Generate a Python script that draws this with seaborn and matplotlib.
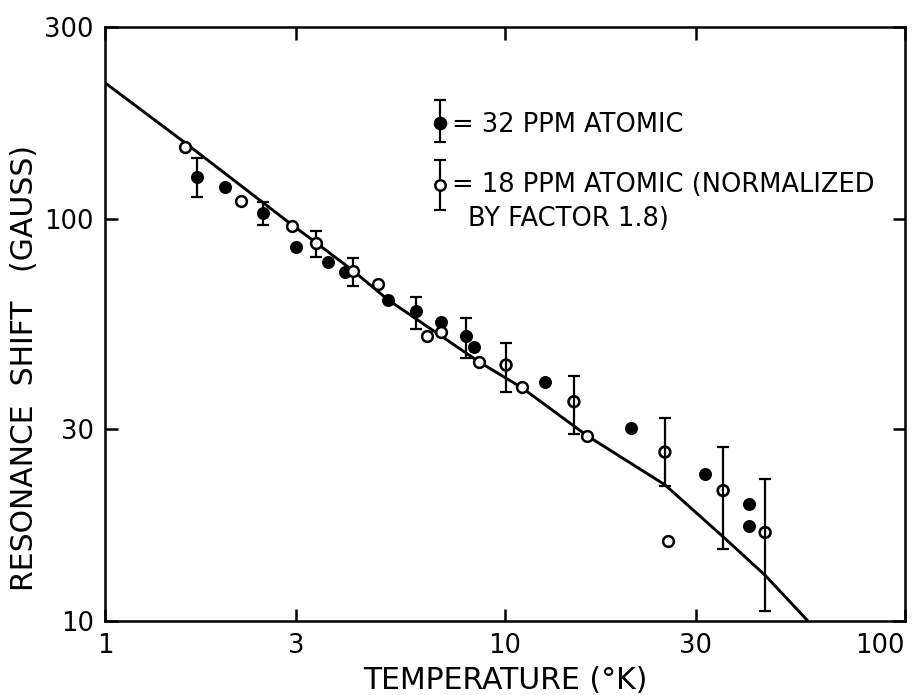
import matplotlib
matplotlib.use("Agg")
import matplotlib.pyplot as plt
from matplotlib.ticker import FixedLocator, NullLocator
import seaborn as sns
import pandas as pd
import numpy as np

# ── Data ─────────────────────────────────────────────────────────────────────
# 32 ppm atomic (filled circles)
temp_32 = [1.995, 3.003, 3.61, 3.98, 5.10, 6.92, 8.37, 12.59, 20.65, 31.6, 40.7, 40.7]
shift_32 = [120.1, 85.2, 78.2, 73.8, 62.9, 55.4, 48.0, 39.3, 30.2, 23.2, 19.5, 17.2]
temp_32_err = [1.698, 2.483, 5.99, 7.99]
shift_32_err = [127.2, 103.5, 59.0, 51.2]
lo_32 = [113.4, 96.6, 53.3, 45.1]
hi_32 = [141.8, 110.2, 64.0, 56.7]

# 18 ppm atomic, normalized by 1.8 (open circles)
temp_18 = [1.585, 2.188, 2.934, 4.81, 6.38, 6.92, 8.61, 11.03, 16.03, 25.6]
shift_18 = [151.1, 110.9, 96.1, 68.9, 51.2, 52.3, 44.1, 38.2, 28.9, 15.8]
# open points with error bars (low T: clean rings, high T: bar drawn through)
temp_18_err = [3.37, 4.17]
shift_18_err = [87.2, 74.3]
lo_18 = [80.4, 68.1]
hi_18 = [93.3, 80.0]
temp_18_bar = [10.06, 14.87, 25.1, 35.1, 44.7]
shift_18_bar = [43.3, 35.1, 26.3, 21.1, 16.6]
lo_18_bar = [37.1, 29.2, 21.7, 15.1, 10.6]
hi_18_bar = [49.2, 40.7, 32.0, 27.1, 22.6]

# theory curve
curve_t = [1.0, 1.585, 2.934, 3.37, 4.17, 5.10, 8.61, 11.03, 16.03, 25.12, 35.08, 44.67, 57.2]
curve_s = [217.9, 154.6, 96.6, 87.2, 74.3, 62.9, 44.1, 38.0, 28.9, 21.8, 16.2, 13.0, 10.0]

x_ticks = [1, 3, 10, 30, 100]
y_ticks = [10, 30, 100, 300]

# ── Style ────────────────────────────────────────────────────────────────────
sns.set_theme(style="ticks")
plt.rcParams["font.family"] = ["DejaVu Sans"]
plt.rcParams["axes.linewidth"] = 1.8
for key in ["text.color", "axes.labelcolor", "xtick.color", "ytick.color", "axes.edgecolor"]:
    plt.rcParams[key] = "black"

fig = plt.figure(figsize=(9.23, 6.95), dpi=100)
ax = fig.add_axes([0.1138, 0.1065, 0.8667, 0.8547])

curve = pd.DataFrame({"T": curve_t, "S": curve_s})
sns.lineplot(data=curve, x="T", y="S", color="black", linewidth=2.1, sort=False,
             estimator=None, ax=ax, zorder=2)


def add_bars(t, s, lo, hi, z):
    ax.errorbar(t, s, yerr=[np.subtract(s, lo), np.subtract(hi, s)],
                fmt="none", ecolor="black", elinewidth=1.6, capsize=4.5,
                capthick=1.6, zorder=z)


add_bars(temp_32_err, shift_32_err, lo_32, hi_32, 3)
add_bars(temp_18_err, shift_18_err, lo_18, hi_18, 3)
add_bars(temp_18_bar, shift_18_bar, lo_18_bar, hi_18_bar, 3)

filled = pd.DataFrame({"T": temp_32 + temp_32_err, "S": shift_32 + shift_32_err})
open_pts = pd.DataFrame({"T": temp_18 + temp_18_err, "S": shift_18 + shift_18_err})
ring_pts = pd.DataFrame({"T": temp_18_bar, "S": shift_18_bar})

sns.scatterplot(data=filled, x="T", y="S", color="black", edgecolor="black",
                s=70, linewidth=1, ax=ax, zorder=4)
sns.scatterplot(data=open_pts, x="T", y="S", facecolor="white", edgecolor="black",
                s=60, linewidth=1.8, ax=ax, zorder=4)
sns.scatterplot(data=ring_pts, x="T", y="S", facecolor="none", edgecolor="black",
                s=60, linewidth=1.9, ax=ax, zorder=4)

ax.set_xscale("log")
ax.set_yscale("log")
ax.set_xlim(1, 100)
ax.set_ylim(10, 300)
ax.xaxis.set_major_locator(FixedLocator(x_ticks))
ax.yaxis.set_major_locator(FixedLocator(y_ticks))
ax.xaxis.set_minor_locator(NullLocator())
ax.yaxis.set_minor_locator(NullLocator())
ax.set_xticklabels([str(v) for v in x_ticks])
ax.set_yticklabels([str(v) for v in y_ticks])
ax.tick_params(axis="both", which="major", direction="in", length=9, width=1.8,
               top=True, right=True, labelsize=18.5, colors="black")
ax.tick_params(axis="x", pad=9)
ax.tick_params(axis="y", pad=8)
ax.get_xticklabels()[-1].set_horizontalalignment("right")

ax.set_xlabel("TEMPERATURE (°K)", fontsize=21.5)
ax.set_ylabel("RESONANCE  SHIFT   (GAUSS)", fontsize=21.5)
ax.xaxis.set_label_coords(0.5, -0.075)
ax.yaxis.set_label_coords(-0.083, 0.426)

# hand-drawn key
kx = 0.419
for ky, lo, hi, face in [(0.838, 0.806, 0.877, "black"), (0.734, 0.692, 0.776, "white")]:
    ax.plot([kx, kx], [lo, hi], color="black", lw=1.6, transform=ax.transAxes, zorder=3)
    ax.plot([kx, kx], [lo, hi], ls="none", marker="_", ms=9, mew=1.6, color="black",
            transform=ax.transAxes, zorder=3)
    ax.plot([kx], [ky], ls="none", marker="o", ms=8 if face == "black" else 7.5,
            mfc=face, mec="black", mew=1.8, transform=ax.transAxes, zorder=4)

key_fs = 18.5
ax.text(0.434, 0.835, "= 32 PPM ATOMIC", transform=ax.transAxes, fontsize=key_fs,
        va="center", ha="left")
ax.text(0.434, 0.734, "= 18 PPM ATOMIC (NORMALIZED", transform=ax.transAxes,
        fontsize=key_fs, va="center", ha="left")
ax.text(0.454, 0.676, "BY FACTOR 1.8)", transform=ax.transAxes, fontsize=key_fs,
        va="center", ha="left")

for s in ax.spines.values():
    s.set_visible(True)
    s.set_color("black")

fig.savefig("out.png", dpi=100, facecolor="white")
